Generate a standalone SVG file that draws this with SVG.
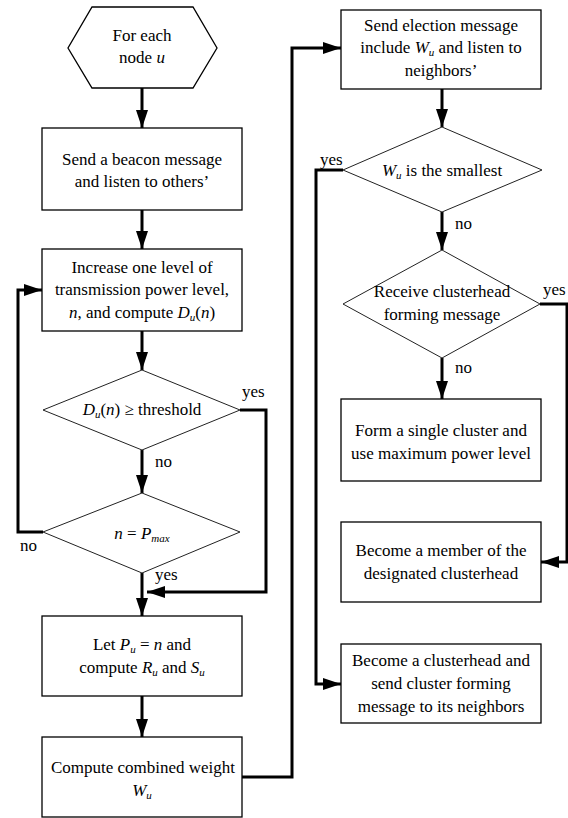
<svg xmlns="http://www.w3.org/2000/svg" width="568" height="818" viewBox="0 0 568 818">
<defs>
<marker id="ah" markerUnits="userSpaceOnUse" markerWidth="18" markerHeight="12" refX="18" refY="6" orient="auto">
<path d="M0,0 L18,6 L0,12 z" fill="#000"/>
</marker>
</defs>
<g id="connectors" fill="none" stroke="#000" stroke-width="3">
<path d="M142,88 V128" marker-end="url(#ah)"/>
<path d="M142,210 V249" marker-end="url(#ah)"/>
<path d="M142,331 V370" marker-end="url(#ah)"/>
<path d="M142,450 V493" marker-end="url(#ah)"/>
<path d="M142,573 V616" marker-end="url(#ah)"/>
<path d="M142,696 V737" marker-end="url(#ah)"/>
<path d="M240,410 H266 V592 H147" marker-end="url(#ah)"/>
<path d="M43,532 H18 V290 H42" marker-end="url(#ah)"/>
<path d="M242,777 H292 V48 H341" marker-end="url(#ah)"/>
<path d="M442,89 V127" marker-end="url(#ah)"/>
<path d="M343,170 H316 V684 H341" marker-end="url(#ah)"/>
<path d="M442,212 V250" marker-end="url(#ah)"/>
<path d="M540,304 H567 V562 H541" marker-end="url(#ah)"/>
<path d="M442,358 V399" marker-end="url(#ah)"/>
</g>
<g id="labels">
<text font-family="Liberation Serif" font-size="17" x="242" y="397">yes</text>
<text font-family="Liberation Serif" font-size="17" x="155" y="467">no</text>
<text font-family="Liberation Serif" font-size="17" x="20" y="551">no</text>
<text font-family="Liberation Serif" font-size="17" x="155" y="580">yes</text>
<text font-family="Liberation Serif" font-size="17" x="320" y="165">yes</text>
<text font-family="Liberation Serif" font-size="17" x="455" y="229">no</text>
<text font-family="Liberation Serif" font-size="17" x="543" y="295">yes</text>
<text font-family="Liberation Serif" font-size="17" x="455" y="373">no</text>
</g>

<g id="start">
<polygon fill="#fff" stroke="#000" stroke-width="1.3" points="92,7 193,7 217,48 193,88 92,88 68,48"/>
<text font-family="Liberation Serif" font-size="17" text-anchor="middle" x="142" y="41">For each</text>
<text font-family="Liberation Serif" font-size="17" text-anchor="middle" x="142" y="63">node <tspan font-style="italic">u</tspan></text>
</g>

<g id="beacon">
<rect fill="#fff" stroke="#000" stroke-width="1.3" x="42" y="128" width="200" height="82"/>
<text font-family="Liberation Serif" font-size="17" text-anchor="middle" x="142" y="165">Send a beacon message</text>
<text font-family="Liberation Serif" font-size="17" text-anchor="middle" x="142" y="187">and listen to others’</text>
</g>

<g id="increase">
<rect fill="#fff" stroke="#000" stroke-width="1.3" x="42" y="249" width="200" height="82"/>
<text font-family="Liberation Serif" font-size="17" text-anchor="middle" x="142" y="273">Increase one level of</text>
<text font-family="Liberation Serif" font-size="17" text-anchor="middle" x="142" y="295">transmission power level,</text>
<text font-family="Liberation Serif" font-size="17" text-anchor="middle" x="142" y="318"><tspan font-style="italic">n</tspan>, and compute <tspan font-style="italic">D</tspan><tspan font-style="italic" font-size="11" dy="3">u</tspan><tspan dy="-3">(</tspan><tspan font-style="italic">n</tspan>)</text>
</g>

<g id="threshold">
<polygon fill="#fff" stroke="#222" stroke-width="1" points="142,370 240,410 142,450 43,410"/>
<text font-family="Liberation Serif" font-size="17" text-anchor="middle" x="142" y="415"><tspan font-style="italic">D</tspan><tspan font-style="italic" font-size="11" dy="3">u</tspan><tspan dy="-3">(</tspan><tspan font-style="italic">n</tspan>) ≥ threshold</text>
</g>

<g id="pmax">
<polygon fill="#fff" stroke="#222" stroke-width="1" points="142,493 240,532 142,573 43,532"/>
<text font-family="Liberation Serif" font-size="17" text-anchor="middle" x="142" y="539"><tspan font-style="italic">n</tspan> = <tspan font-style="italic">P</tspan><tspan font-style="italic" font-size="11" dy="3">max</tspan></text>
</g>

<g id="letp">
<rect fill="#fff" stroke="#000" stroke-width="1.3" x="42" y="616" width="200" height="80"/>
<text font-family="Liberation Serif" font-size="17" text-anchor="middle" x="142" y="650">Let <tspan font-style="italic">P</tspan><tspan font-style="italic" font-size="11" dy="3">u</tspan><tspan dy="-3"> = </tspan><tspan font-style="italic">n</tspan> and</text>
<text font-family="Liberation Serif" font-size="17" text-anchor="middle" x="142" y="673">compute <tspan font-style="italic">R</tspan><tspan font-style="italic" font-size="11" dy="3">u</tspan><tspan dy="-3"> and </tspan><tspan font-style="italic">S</tspan><tspan font-style="italic" font-size="11" dy="3">u</tspan></text>
</g>

<g id="weight">
<rect fill="#fff" stroke="#000" stroke-width="1.3" x="42" y="737" width="200" height="80"/>
<text font-family="Liberation Serif" font-size="17" text-anchor="middle" x="143" y="773">Compute combined weight</text>
<text font-family="Liberation Serif" font-size="17" text-anchor="middle" x="142" y="796"><tspan font-style="italic">W</tspan><tspan font-style="italic" font-size="11" dy="3">u</tspan></text>
</g>

<g id="election">
<rect fill="#fff" stroke="#000" stroke-width="1.3" x="341" y="10" width="200" height="79"/>
<text font-family="Liberation Serif" font-size="17" text-anchor="middle" x="441" y="31">Send election message</text>
<text font-family="Liberation Serif" font-size="17" text-anchor="middle" x="441" y="53">include <tspan font-style="italic">W</tspan><tspan font-style="italic" font-size="11" dy="3">u</tspan><tspan dy="-3"> and listen to</tspan></text>
<text font-family="Liberation Serif" font-size="17" text-anchor="middle" x="441" y="76">neighbors’</text>
</g>

<g id="smallest">
<polygon fill="#fff" stroke="#222" stroke-width="1" points="442,127 542,170 442,212 343,170"/>
<text font-family="Liberation Serif" font-size="17" text-anchor="middle" x="442" y="176"><tspan font-style="italic">W</tspan><tspan font-style="italic" font-size="11" dy="3">u</tspan><tspan dy="-3"> is the smallest</tspan></text>
</g>

<g id="receive">
<polygon fill="#fff" stroke="#222" stroke-width="1" points="442,250 540,304 442,358 343,304"/>
<text font-family="Liberation Serif" font-size="17" text-anchor="middle" x="442" y="297">Receive clusterhead</text>
<text font-family="Liberation Serif" font-size="17" text-anchor="middle" x="442" y="320">forming message</text>
</g>

<g id="single">
<rect fill="#fff" stroke="#000" stroke-width="1.3" x="341" y="399" width="200" height="82"/>
<text font-family="Liberation Serif" font-size="17" text-anchor="middle" x="441" y="436">Form a single cluster and</text>
<text font-family="Liberation Serif" font-size="17" text-anchor="middle" x="441" y="459">use maximum power level</text>
</g>

<g id="member">
<rect fill="#fff" stroke="#000" stroke-width="1.3" x="341" y="522" width="200" height="80"/>
<text font-family="Liberation Serif" font-size="17" text-anchor="middle" x="441" y="556">Become a member of the</text>
<text font-family="Liberation Serif" font-size="17" text-anchor="middle" x="441" y="579">designated clusterhead</text>
</g>

<g id="clusterhead">
<rect fill="#fff" stroke="#000" stroke-width="1.3" x="341" y="644" width="200" height="79"/>
<text font-family="Liberation Serif" font-size="17" text-anchor="middle" x="441" y="666">Become a clusterhead and</text>
<text font-family="Liberation Serif" font-size="17" text-anchor="middle" x="441" y="689">send cluster forming</text>
<text font-family="Liberation Serif" font-size="17" text-anchor="middle" x="441" y="712">message to its neighbors</text>
</g>
</svg>
